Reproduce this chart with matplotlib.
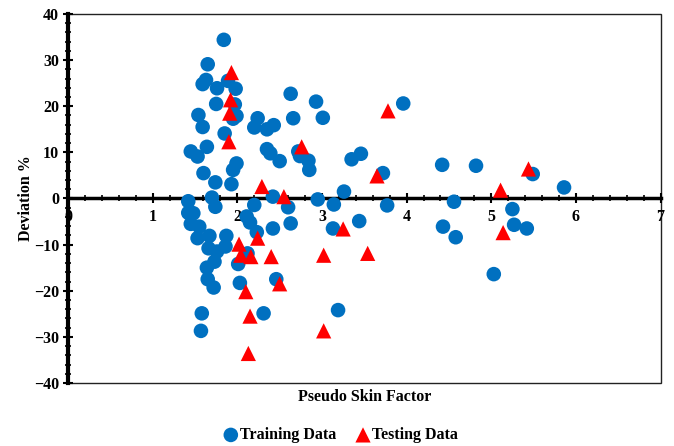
import matplotlib.pyplot as plt
from matplotlib.patches import Rectangle
from matplotlib.ticker import MultipleLocator

plt.rcParams['font.family'] = ['Liberation Serif', 'DejaVu Serif']
plt.rcParams['font.weight'] = 'bold'

# Training points (pseudo skin factor, deviation %)
train_x = [1.84, 1.65, 1.59, 1.63, 1.76, 1.89, 1.98, 1.75, 1.97, 1.54,
           1.59, 1.95, 1.99, 1.85, 1.64, 1.45, 1.53, 1.60, 1.74, 1.95,
           1.99, 1.93, 2.24, 2.20, 2.35, 2.43, 2.63, 2.66, 2.93, 3.01,
           2.35, 2.39, 2.50, 2.72, 2.74, 2.84, 2.85, 3.35, 3.46, 3.96,
           3.72, 3.26, 4.42, 4.82, 5.49, 5.86, 2.42,
           2.95, 3.14, 3.77, 2.60, 2.63, 3.13, 3.44, 3.19, 2.46, 4.56,
           5.25, 4.43, 4.58, 5.27, 5.42, 5.03, 1.42, 1.42, 1.48, 1.70,
           1.74, 1.45, 1.55, 1.53, 1.67, 1.66, 1.76, 1.86, 1.87, 1.64,
           1.73, 1.65, 1.72, 1.58, 1.57, 2.01, 2.03, 2.12, 2.11, 2.15,
           2.20, 2.23, 2.42, 2.31]
train_y = [34.4, 29.1, 24.8, 25.7, 23.9, 25.5, 23.8, 20.5, 20.4, 18.1,
           15.5, 17.3, 17.9, 14.1, 11.2, 10.2, 9.1, 5.5, 3.5, 6.2,
           7.6, 3.1, 17.4, 15.4, 15.0, 15.9, 22.7, 17.4, 21.0, 17.5,
           10.7, 9.8, 8.1, 10.2, 9.2, 8.2, 6.2, 8.5, 9.7, 20.6,
           5.5, 1.5, 7.3, 7.1, 5.3, 2.4, 0.4,
           -0.2, -1.3, -1.5, -1.9, -5.4, -6.5, -4.9, -24.2, -17.5, -0.7,
           -2.3, -6.1, -8.4, -5.7, -6.5, -16.4, -0.6, -3.1, -3.2, 0.2,
           -1.8, -5.5, -6.1, -8.6, -8.1, -10.8, -11.5, -10.4, -8.1, -15.0,
           -13.7, -17.5, -19.3, -24.9, -28.7, -14.2, -18.3, -11.9, -3.9, -5.2,
           -1.4, -7.3, -6.5, -24.9]

# Testing points
test_x = [1.93, 1.92, 1.91, 1.90, 2.29, 2.55, 2.76, 3.78, 3.65, 5.44,
          5.11, 5.14, 3.25, 3.02, 3.54, 3.02, 2.02, 2.04, 2.16, 2.24,
          2.40, 2.50, 2.10, 2.15, 2.13]
test_y = [27.3, 21.4, 18.5, 12.3, 2.6, 0.4, 11.2, 19.0, 4.9, 6.4,
          1.8, -7.4, -6.6, -12.3, -11.9, -28.7, -9.9, -12.3, -12.6, -8.6,
          -12.6, -18.5, -20.2, -25.5, -33.6]

fig = plt.figure(figsize=(6.74, 4.46), dpi=100)
ax = fig.add_axes([0.101, 0.1413, 0.879, 0.8273])

ax.scatter(train_x, train_y, s=110, marker='o', color='#0070C0',
           edgecolors='none', label='Training Data', zorder=3)
ax.scatter(test_x, test_y, s=120, marker='^', color='#FF0000',
           edgecolors='none', label='Testing Data', zorder=4)

ax.set_xlim(0, 7)
ax.set_ylim(-40, 40)

# thick axes crossing at the origin, thin frame around the plot
ax.spines['bottom'].set_position(('data', 0))
ax.spines['bottom'].set_linewidth(2.5)
ax.spines['left'].set_linewidth(3)
ax.spines['top'].set_visible(False)
ax.spines['right'].set_visible(False)
ax.add_patch(Rectangle((0, 0), 1, 1, transform=ax.transAxes, fill=False,
                       lw=1.0, edgecolor='#222222', zorder=1, clip_on=False))

ax.xaxis.set_major_locator(MultipleLocator(1))
ax.xaxis.set_minor_locator(MultipleLocator(0.2))
ax.yaxis.set_major_locator(MultipleLocator(10))
ax.yaxis.set_minor_locator(MultipleLocator(2))
ax.tick_params(which='major', direction='inout', length=7, width=1.5,
               labelsize=11.5)
ax.tick_params(which='minor', direction='inout', length=4, width=1.2)
ax.tick_params(axis='x', which='major', pad=4)
ax.tick_params(axis='y', which='major', pad=3)

ax.set_ylabel('Deviation %', fontsize=11.5, fontweight='bold')
ax.yaxis.set_label_coords(-0.058, 0.5)
ax.text(0.5, -0.038, 'Pseudo Skin Factor', transform=ax.transAxes,
        ha='center', va='center', fontsize=11.5, fontweight='bold')

fig.legend(loc='lower center', bbox_to_anchor=(0.506, -0.015), ncol=2,
           frameon=False, fontsize=11.5, handlelength=0.8,
           handletextpad=0.15, columnspacing=1.3, borderaxespad=0.2,
           scatterpoints=1)

fig.savefig('out.png', dpi=100)
